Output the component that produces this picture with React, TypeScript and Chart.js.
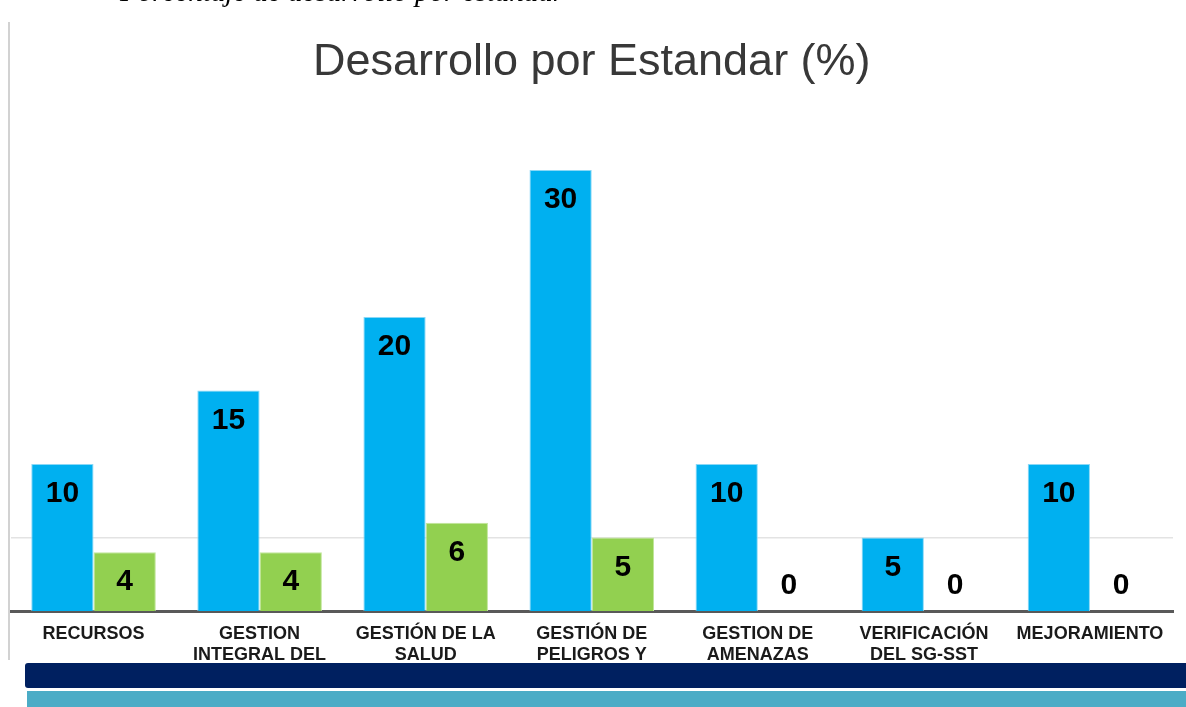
import React, { useEffect, useRef } from "react";
import { Chart, registerables } from "chart.js";

Chart.register(...registerables);

// ---- data ----
const categories: string[][] = [
  ["RECURSOS"],
  ["GESTION", "INTEGRAL DEL"],
  ["GESTIÓN DE LA", "SALUD"],
  ["GESTIÓN DE", "PELIGROS Y"],
  ["GESTION DE", "AMENAZAS"],
  ["VERIFICACIÓN", "DEL SG-SST"],
  ["MEJORAMIENTO"],
];
const seriesNames = ["Valor del estándar", "Puntaje obtenido"];
const seriesMax = [10, 15, 20, 30, 10, 5, 10];
const seriesObtained = [4, 4, 6, 5, 0, 0, 0];
const gridTickValues = [5];
const titleText = "Desarrollo por Estandar (%)";
const captionText = "Porcentaje de desarrollo por estándar";

const FONT = "'Liberation Sans', Arial, Helvetica, sans-serif";

const valueLabels = {
  id: "valueLabels",
  afterDatasetsDraw(chart: any) {
    const ctx = chart.ctx;
    ctx.save();
    ctx.font = `bold 30px ${FONT}`;
    ctx.fillStyle = "#000000";
    ctx.textAlign = "center";
    ctx.textBaseline = "middle";
    chart.data.datasets.forEach((ds: any, di: number) => {
      const meta = chart.getDatasetMeta(di);
      meta.data.forEach((el: any, i: number) => {
        const v = ds.data[i] as number;
        const y = v > 0 ? el.y + 30 : el.y - 25;
        ctx.fillText(String(v), el.x, y);
      });
    });
    ctx.restore();
  },
};

export default function App() {
  const canvasRef = useRef<HTMLCanvasElement | null>(null);

  useEffect(() => {
    document.body.style.margin = "0";
    const canvas = canvasRef.current;
    if (!canvas) return;
    const chart = new Chart(canvas, {
      type: "bar",
      data: {
        labels: categories,
        datasets: [
          {
            label: seriesNames[0],
            data: seriesMax,
            backgroundColor: "#00B0F0",
            borderColor: "#8ad8f6",
            borderWidth: 1,
            categoryPercentage: 0.75,
            barPercentage: 1,
          },
          {
            label: seriesNames[1],
            data: seriesObtained,
            backgroundColor: "#92D050",
            borderColor: "#c2e69c",
            borderWidth: 1,
            categoryPercentage: 0.75,
            barPercentage: 1,
          },
        ],
      },
      options: {
        animation: false,
        responsive: true,
        maintainAspectRatio: false,
        devicePixelRatio: 1,
        layout: { padding: { left: 10.5, right: 13, top: 0, bottom: 1.6 } },
        plugins: {
          legend: { display: false },
          tooltip: { enabled: false },
          title: {
            display: true,
            text: titleText,
            color: "#383838",
            font: { family: FONT, size: 45, weight: "normal", lineHeight: 1.2 },
            padding: { top: 35.5, bottom: 7 },
          },
        },
        scales: {
          x: {
            grid: { display: false, drawTicks: false },
            border: { display: true, color: "#595959", width: 3 },
            ticks: {
              color: "#1a1a1a",
              font: { family: FONT, size: 18, weight: "bold", lineHeight: 1.15 },
              padding: 13,
              autoSkip: false,
              maxRotation: 0,
              minRotation: 0,
            },
          },
          y: {
            min: 0,
            max: 35,
            afterBuildTicks: (scale: any) => {
              scale.ticks = gridTickValues.map((v) => ({ value: v }));
            },
            grid: { color: "#e3e3e3", lineWidth: 1.5, drawTicks: false },
            border: { display: false },
            ticks: { display: false, padding: 0 },
          },
        },
      },
      plugins: [valueLabels],
    });
    return () => chart.destroy();
  }, []);

  return (
    <div
      style={{
        position: "fixed",
        left: 0,
        top: 0,
        width: 1186,
        height: 707,
        overflow: "hidden",
        background: "#ffffff",
      }}
    >
      <div style={{ position: "absolute", left: 0, top: 0, width: 1186, height: 680 }}>
        <canvas ref={canvasRef} />
      </div>
      <div
        style={{
          position: "absolute",
          left: 120,
          top: -23.3,
          fontFamily: "'Liberation Serif', 'Times New Roman', serif",
          fontStyle: "italic",
          fontSize: 29,
          lineHeight: "29px",
          whiteSpace: "nowrap",
          color: "#000",
        }}
      >
        {captionText}
      </div>
      <div
        style={{
          position: "absolute",
          left: 8,
          top: 22,
          width: 2,
          height: 638,
          background: "#d2d2d2",
        }}
      />
      <div
        style={{
          position: "absolute",
          left: 25,
          top: 663,
          width: 1170,
          height: 25,
          background: "#002060",
          borderTopLeftRadius: 3,
          borderBottomLeftRadius: 3,
        }}
      />
      <div
        style={{
          position: "absolute",
          left: 27,
          top: 690.5,
          width: 1170,
          height: 20,
          background: "#4BACC6",
        }}
      />
    </div>
  );
}
